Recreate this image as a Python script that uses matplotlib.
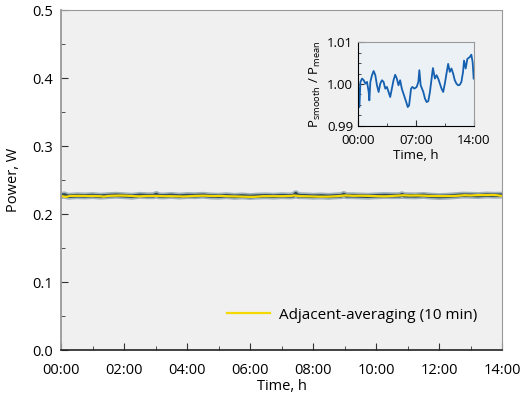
import numpy as np
import matplotlib
matplotlib.use("Agg")
import matplotlib.pyplot as plt
from matplotlib.ticker import MultipleLocator, FuncFormatter

plt.rcParams['font.family'] = ['Open Sans', 'DejaVu Sans']
plt.rcParams['mathtext.fontset'] = 'custom'
plt.rcParams['mathtext.rm'] = 'Open Sans'

# ratio P_smooth / P_mean (inset)
ratio_hours = [0.0, 0.16, 0.28, 0.48, 0.68, 0.88, 1.08, 1.28, 1.36, 1.48, 1.68, 1.88,
               2.08, 2.28, 2.48, 2.68, 2.88, 3.08, 3.28, 3.48, 3.68, 3.88, 4.08, 4.28,
               4.48, 4.68, 4.88, 5.08, 5.28, 5.48, 5.68, 5.88, 6.0, 6.16, 6.4, 6.56,
               6.8, 7.08, 7.28, 7.4, 7.56, 7.88, 8.08, 8.28, 8.48, 8.68, 8.88, 9.04,
               9.28, 9.48, 9.68, 9.88, 10.08, 10.28, 10.48, 10.68, 10.88, 11.08, 11.28,
               11.48, 11.68, 11.88, 12.08, 12.28, 12.48, 12.68, 12.8, 13.0, 13.2,
               13.48, 13.68, 13.84, 13.96]
ratio = [1.0001, 0.9945, 1.0005, 1.0013, 1.0009, 1.0001, 1.0005, 0.9981, 0.9961, 1.0005,
         1.0021, 1.0031, 1.0021, 0.9997, 0.9981, 1.0001, 1.0009, 1.0005, 0.9989, 0.9993,
         0.9981, 0.9969, 0.9989, 1.0009, 1.0022, 1.0013, 0.9997, 1.0009, 0.9989, 0.9977,
         0.9965, 0.9953, 0.9945, 0.9949, 0.9989, 0.9993, 0.9989, 0.9993, 1.0005, 1.0033,
         0.9997, 0.9981, 0.9965, 0.9957, 0.9959, 0.9981, 1.0013, 1.0038, 1.0013, 1.0021,
         1.0013, 1.0001, 0.9989, 0.9981, 1.0001, 1.0025, 1.0048, 1.0029, 1.0037, 1.0025,
         1.0009, 1.0001, 0.9997, 0.9998, 1.0005, 1.0029, 1.0056, 1.0037, 1.0060, 1.0064,
         1.0070, 1.0052, 1.0013]
p_mean = 0.2265

# raw power, W
raw_hours = [0.0, 0.1, 0.2, 0.25, 0.5, 0.75, 1.0, 1.25, 1.5, 1.75, 2.0, 2.25, 2.5, 2.75,
             2.95, 3.02, 3.1, 3.25, 3.5, 3.75, 4.0, 4.25, 4.5, 4.75, 5.0, 5.25, 5.5, 5.75,
             6.0, 6.25, 6.5, 6.75, 7.0, 7.25, 7.38, 7.45, 7.52, 7.75, 8.0, 8.25, 8.5, 8.75,
             8.9, 8.97, 9.05, 9.25, 9.5, 9.75, 10.0, 10.25, 10.5, 10.75, 10.82, 10.88,
             10.95, 11.25, 11.5, 11.75, 12.0, 12.25, 12.5, 12.75, 13.0, 13.25, 13.5, 13.75, 14.0]
raw_power = [0.2270, 0.2282, 0.2264, 0.2262, 0.2270, 0.2266, 0.2272, 0.2263, 0.2271, 0.2276,
             0.2270, 0.2262, 0.2275, 0.2269, 0.2270, 0.2288, 0.2268, 0.2266, 0.2274, 0.2264,
             0.2272, 0.2270, 0.2276, 0.2266, 0.2262, 0.2270, 0.2260, 0.2266, 0.2258, 0.2265,
             0.2268, 0.2263, 0.2270, 0.2266, 0.2270, 0.2300, 0.2270, 0.2268, 0.2262, 0.2266,
             0.2260, 0.2268, 0.2270, 0.2288, 0.2270, 0.2270, 0.2266, 0.2262, 0.2268, 0.2272,
             0.2270, 0.2270, 0.2284, 0.2272, 0.2270, 0.2268, 0.2274, 0.2264, 0.2258, 0.2262,
             0.2270, 0.2278, 0.2276, 0.2272, 0.2280, 0.2276, 0.2278]

smooth_power = [p_mean * r for r in ratio]

fig = plt.figure(figsize=(5.22, 4.01), dpi=100)
ax = fig.add_axes([0.117, 0.127, 0.845, 0.848])
ax.set_facecolor('#f0f0f0')

ax.plot(raw_hours, raw_power, color='#8ea3ae', lw=5, alpha=0.8, solid_joinstyle='round')
ax.plot(raw_hours, raw_power, color='#2f4a5a', lw=2.6)
ax.plot(ratio_hours, smooth_power, color='#f5d800', lw=1.6, label='Adjacent-averaging (10 min)')

ax.set_xlim(0, 14)
ax.set_ylim(0, 0.5)
ax.xaxis.set_major_locator(MultipleLocator(2))
ax.xaxis.set_minor_locator(MultipleLocator(1))
ax.yaxis.set_major_locator(MultipleLocator(0.1))
ax.yaxis.set_minor_locator(MultipleLocator(0.05))
ax.xaxis.set_major_formatter(FuncFormatter(lambda v, p: f"{int(round(v)):02d}:00"))
ax.yaxis.set_major_formatter(FuncFormatter(lambda v, p: f"{v:.1f}"))
ax.tick_params(which='both', direction='in', labelsize=10.5, color='#333333')
ax.tick_params(which='major', length=5)
ax.tick_params(which='minor', length=3)
ax.tick_params(axis='x', pad=9)
ax.tick_params(axis='y', pad=6)
for s in ['top', 'right', 'left']:
    ax.spines[s].set_color('#999999')
ax.spines['left'].set_linewidth(1.3)
ax.spines['bottom'].set_color('#222222')
ax.spines['bottom'].set_linewidth(1.2)
ax.set_xlabel('Time, h', fontsize=10.5, labelpad=1)
ax.set_ylabel('Power, W', fontsize=10.5, labelpad=8)
ax.legend(loc='lower right', bbox_to_anchor=(0.975, 0.04), frameon=False, fontsize=11,
          handlelength=2.8, handletextpad=0.6)

# inset
ins = fig.add_axes([0.686, 0.686, 0.222, 0.209])
ins.set_facecolor('#ebf1f5')
ins.plot(ratio_hours, ratio, color='#1560b0', lw=1.3)
ins.set_xlim(0, 14)
ins.set_ylim(0.99, 1.01)
ins.xaxis.set_major_locator(MultipleLocator(7))
ins.xaxis.set_minor_locator(MultipleLocator(3.5))
ins.yaxis.set_major_locator(MultipleLocator(0.01))
ins.yaxis.set_minor_locator(MultipleLocator(0.0025))
ins.xaxis.set_major_formatter(FuncFormatter(lambda v, p: f"{int(round(v)):02d}:00"))
ins.yaxis.set_major_formatter(FuncFormatter(lambda v, p: f"{v:.2f}"))
ins.tick_params(which='both', direction='in', labelsize=9.5, color='#333333')
ins.tick_params(which='major', length=4)
ins.tick_params(which='minor', length=2)
ins.tick_params(axis='x', pad=6)
ins.spines['top'].set_color('#999999')
ins.spines['right'].set_color('#999999')
ins.set_xlabel('Time, h', fontsize=9.5, labelpad=1)
ins.set_ylabel(r'P$_{\rm smooth}$ / P$_{\rm mean}$', fontsize=9.5, labelpad=3)

fig.savefig('out.png', dpi=100)
